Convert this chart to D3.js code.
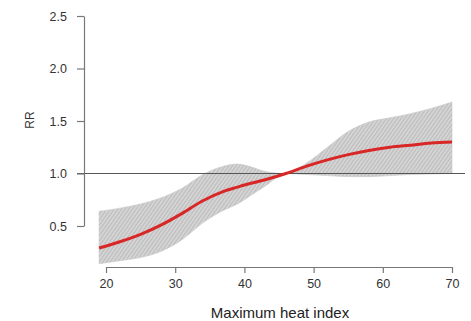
<!DOCTYPE html>
<html>
<head>
<meta charset="utf-8">
<script src="https://cdn.jsdelivr.net/npm/d3@7"></script>
<style>
  body { margin: 0; background: #fff; }
  text { font-family: "Liberation Sans", Arial, sans-serif; }
</style>
</head>
<body>
<div id="chart"></div>
<script>
// heat index (x) with relative risk and its confidence band
const heatIndex = [19, 22, 25, 28, 31, 34, 37, 39, 40, 43, 46, 49, 52, 55, 58, 61, 64, 67, 70];
const rrMean =    [0.29, 0.35, 0.42, 0.51, 0.62, 0.74, 0.83, 0.87, 0.89, 0.94, 1.0, 1.07, 1.13, 1.18, 1.22, 1.25, 1.27, 1.29, 1.30];
const rrUpper =   [0.64, 0.67, 0.71, 0.77, 0.86, 0.99, 1.07, 1.09, 1.08, 1.02, 1.0, 1.10, 1.25, 1.40, 1.49, 1.53, 1.57, 1.62, 1.68];
const rrLower =   [0.14, 0.17, 0.20, 0.26, 0.37, 0.53, 0.65, 0.71, 0.75, 0.88, 1.0, 0.99, 0.98, 0.97, 0.97, 0.98, 0.99, 0.995, 1.0];
const xTicks = [20, 30, 40, 50, 60, 70];
const yTicks = [0.5, 1.0, 1.5, 2.0, 2.5];

const width = 471, height = 321;

const svg = d3.select("#chart").append("svg")
    .attr("width", width)
    .attr("height", height);

const x = d3.scaleLinear().domain([20, 70]).range([106, 452]);
const y = d3.scaleLinear().domain([0.5, 2.5]).range([226, 16]);

// hatch pattern for the band
const pat = svg.append("defs").append("pattern")
    .attr("id", "hatch")
    .attr("patternUnits", "userSpaceOnUse")
    .attr("width", 3)
    .attr("height", 3)
    .attr("patternTransform", "rotate(35)");
pat.append("rect").attr("width", 3).attr("height", 3).attr("fill", "#d4d4d4");
pat.append("line")
    .attr("x1", 0).attr("y1", 0).attr("x2", 0).attr("y2", 3)
    .attr("stroke", "#969696")
    .attr("stroke-width", 0.8);

const rows = heatIndex.map((h, i) => ({ h, m: rrMean[i], lo: rrLower[i], hi: rrUpper[i] }));

const area = d3.area()
    .x(d => x(d.h))
    .y0(d => y(d.lo))
    .y1(d => y(d.hi))
    .curve(d3.curveMonotoneX);

svg.append("path")
    .datum(rows)
    .attr("d", area)
    .attr("fill", "url(#hatch)")
    .attr("stroke", "#c8c8c8")
    .attr("stroke-width", 0.6);

// reference line at RR = 1
svg.append("line")
    .attr("x1", 77).attr("x2", 465)
    .attr("y1", y(1)).attr("y2", y(1))
    .attr("stroke", "#555")
    .attr("stroke-width", 1);

const line = d3.line()
    .x(d => x(d.h))
    .y(d => y(d.m))
    .curve(d3.curveMonotoneX);

svg.append("path")
    .datum(rows)
    .attr("d", line)
    .attr("fill", "none")
    .attr("stroke", "#d92626")
    .attr("stroke-width", 3);

// axes
const xAxis = svg.append("g")
    .attr("transform", "translate(0,267)")
    .call(d3.axisBottom(x).tickValues(xTicks).tickSize(6).tickSizeOuter(0).tickPadding(6));

const yAxis = svg.append("g")
    .attr("transform", "translate(84,0)")
    .call(d3.axisLeft(y).tickValues(yTicks).tickFormat(d3.format(".1f")).tickSize(7).tickSizeOuter(0).tickPadding(10));

[xAxis, yAxis].forEach(g => {
    g.selectAll("path, line").attr("stroke", "#777").attr("stroke-width", 1.2);
    g.selectAll("text").attr("fill", "#333").style("font-size", "12.5px");
});

svg.append("text")
    .attr("x", 280)
    .attr("y", 318)
    .attr("text-anchor", "middle")
    .attr("fill", "#222")
    .style("font-size", "15px")
    .text("Maximum heat index");

svg.append("text")
    .attr("transform", "translate(34,120) rotate(-90)")
    .attr("text-anchor", "middle")
    .attr("fill", "#333")
    .style("font-size", "12px")
    .text("RR");
</script>
</body>
</html>
